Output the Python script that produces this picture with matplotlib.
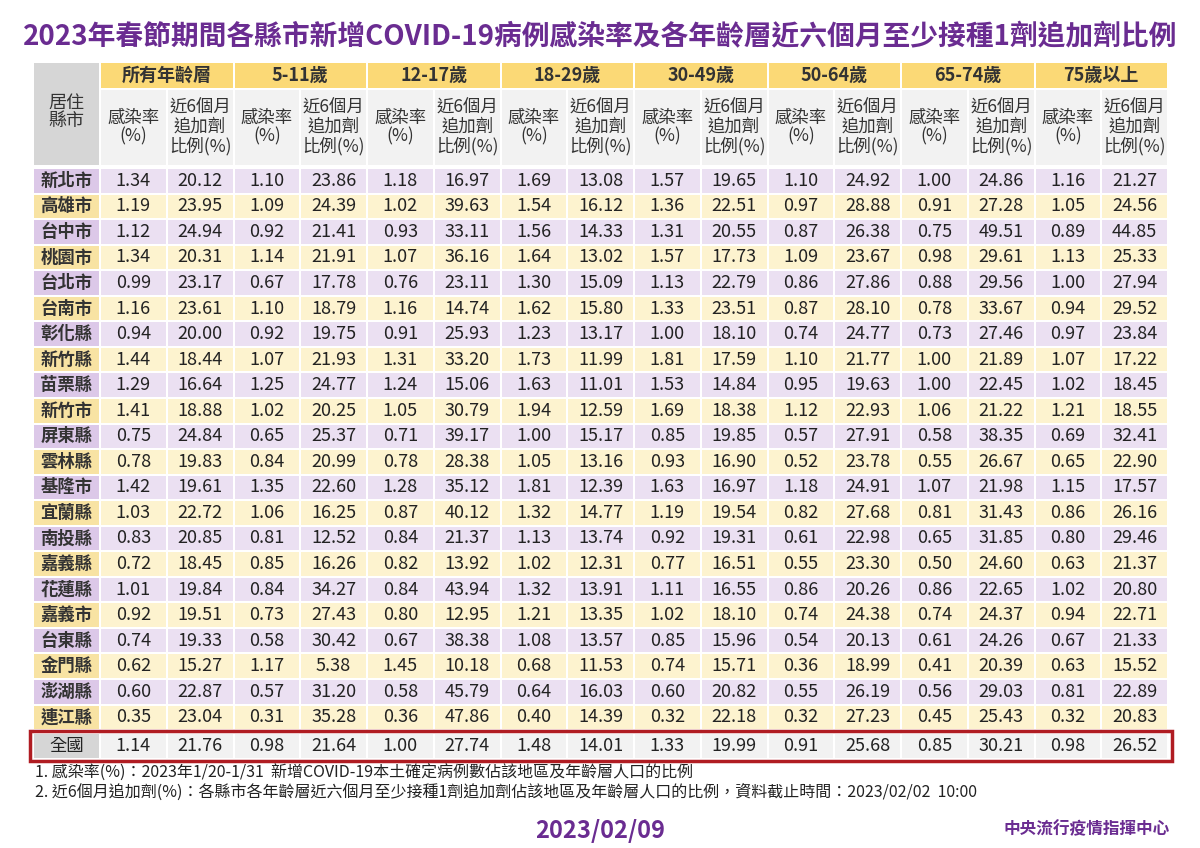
import matplotlib.pyplot as plt
from matplotlib.patches import Rectangle

plt.rcParams['font.family'] = ['Noto Sans CJK TC', 'DejaVu Sans']

title = "2023年春節期間各縣市新增COVID-19病例感染率及各年齡層近六個月至少接種1劑追加劑比例"
age_groups = ["所有年齡層", "5-11歲", "12-17歲", "18-29歲", "30-49歲", "50-64歲", "65-74歲", "75歲以上"]
sub_headers = ["感染率\n(%)", "近6個月\n追加劑\n比例(%)"]
cities = ["新北市", "高雄市", "台中市", "桃園市", "台北市", "台南市", "彰化縣", "新竹縣", "苗栗縣",
          "新竹市", "屏東縣", "雲林縣", "基隆市", "宜蘭縣", "南投縣", "嘉義縣", "花蓮縣", "嘉義市",
          "台東縣", "金門縣", "澎湖縣", "連江縣"]
values = [
    [1.34, 20.12, 1.10, 23.86, 1.18, 16.97, 1.69, 13.08, 1.57, 19.65, 1.10, 24.92, 1.00, 24.86, 1.16, 21.27],
    [1.19, 23.95, 1.09, 24.39, 1.02, 39.63, 1.54, 16.12, 1.36, 22.51, 0.97, 28.88, 0.91, 27.28, 1.05, 24.56],
    [1.12, 24.94, 0.92, 21.41, 0.93, 33.11, 1.56, 14.33, 1.31, 20.55, 0.87, 26.38, 0.75, 49.51, 0.89, 44.85],
    [1.34, 20.31, 1.14, 21.91, 1.07, 36.16, 1.64, 13.02, 1.57, 17.73, 1.09, 23.67, 0.98, 29.61, 1.13, 25.33],
    [0.99, 23.17, 0.67, 17.78, 0.76, 23.11, 1.30, 15.09, 1.13, 22.79, 0.86, 27.86, 0.88, 29.56, 1.00, 27.94],
    [1.16, 23.61, 1.10, 18.79, 1.16, 14.74, 1.62, 15.80, 1.33, 23.51, 0.87, 28.10, 0.78, 33.67, 0.94, 29.52],
    [0.94, 20.00, 0.92, 19.75, 0.91, 25.93, 1.23, 13.17, 1.00, 18.10, 0.74, 24.77, 0.73, 27.46, 0.97, 23.84],
    [1.44, 18.44, 1.07, 21.93, 1.31, 33.20, 1.73, 11.99, 1.81, 17.59, 1.10, 21.77, 1.00, 21.89, 1.07, 17.22],
    [1.29, 16.64, 1.25, 24.77, 1.24, 15.06, 1.63, 11.01, 1.53, 14.84, 0.95, 19.63, 1.00, 22.45, 1.02, 18.45],
    [1.41, 18.88, 1.02, 20.25, 1.05, 30.79, 1.94, 12.59, 1.69, 18.38, 1.12, 22.93, 1.06, 21.22, 1.21, 18.55],
    [0.75, 24.84, 0.65, 25.37, 0.71, 39.17, 1.00, 15.17, 0.85, 19.85, 0.57, 27.91, 0.58, 38.35, 0.69, 32.41],
    [0.78, 19.83, 0.84, 20.99, 0.78, 28.38, 1.05, 13.16, 0.93, 16.90, 0.52, 23.78, 0.55, 26.67, 0.65, 22.90],
    [1.42, 19.61, 1.35, 22.60, 1.28, 35.12, 1.81, 12.39, 1.63, 16.97, 1.18, 24.91, 1.07, 21.98, 1.15, 17.57],
    [1.03, 22.72, 1.06, 16.25, 0.87, 40.12, 1.32, 14.77, 1.19, 19.54, 0.82, 27.68, 0.81, 31.43, 0.86, 26.16],
    [0.83, 20.85, 0.81, 12.52, 0.84, 21.37, 1.13, 13.74, 0.92, 19.31, 0.61, 22.98, 0.65, 31.85, 0.80, 29.46],
    [0.72, 18.45, 0.85, 16.26, 0.82, 13.92, 1.02, 12.31, 0.77, 16.51, 0.55, 23.30, 0.50, 24.60, 0.63, 21.37],
    [1.01, 19.84, 0.84, 34.27, 0.84, 43.94, 1.32, 13.91, 1.11, 16.55, 0.86, 20.26, 0.86, 22.65, 1.02, 20.80],
    [0.92, 19.51, 0.73, 27.43, 0.80, 12.95, 1.21, 13.35, 1.02, 18.10, 0.74, 24.38, 0.74, 24.37, 0.94, 22.71],
    [0.74, 19.33, 0.58, 30.42, 0.67, 38.38, 1.08, 13.57, 0.85, 15.96, 0.54, 20.13, 0.61, 24.26, 0.67, 21.33],
    [0.62, 15.27, 1.17, 5.38, 1.45, 10.18, 0.68, 11.53, 0.74, 15.71, 0.36, 18.99, 0.41, 20.39, 0.63, 15.52],
    [0.60, 22.87, 0.57, 31.20, 0.58, 45.79, 0.64, 16.03, 0.60, 20.82, 0.55, 26.19, 0.56, 29.03, 0.81, 22.89],
    [0.35, 23.04, 0.31, 35.28, 0.36, 47.86, 0.40, 14.39, 0.32, 22.18, 0.32, 27.23, 0.45, 25.43, 0.32, 20.83],
]
national_label = "全國"
national = [1.14, 21.76, 0.98, 21.64, 1.00, 27.74, 1.48, 14.01, 1.33, 19.99, 0.91, 25.68, 0.85, 30.21, 0.98, 26.52]
notes = ["1. 感染率(%)：2023年1/20-1/31  新增COVID-19本土確定病例數佔該地區及年齡層人口的比例",
         "2. 近6個月追加劑(%)：各縣市各年齡層近六個月至少接種1劑追加劑佔該地區及年齡層人口的比例，資料截止時間：2023/02/02  10:00"]
date_text = "2023/02/09"
org_text = "中央流行疫情指揮中心"

PURPLE = "#6a2c91"
fig = plt.figure(figsize=(12, 8.48), dpi=100)
ax = fig.add_axes([0, 0, 1, 1])
ax.set_xlim(0, 1200)
ax.set_ylim(848, 0)
ax.axis("off")

x0, lab_w = 33, 67
col_w = (1168 - x0 - lab_w) / 16
row_top, row_h = 168, 25.55
gap = 2
NUM_FS = 13

def cell(x, y, w, h, color):
    ax.add_patch(Rectangle((x + gap / 2, y + gap / 2), w - gap, h - gap, color=color, lw=0))

ax.text(600, 37, title, ha="center", va="center", fontsize=20, fontweight="bold", color=PURPLE)

# header
cell(x0, 62, lab_w, 104, "#d6d6d6")
ax.text(x0 + lab_w / 2, 112, "居住\n縣市", ha="center", va="center", fontsize=13, color="#333333", linespacing=1.05)
for i, g in enumerate(age_groups):
    gx = x0 + lab_w + i * 2 * col_w
    cell(gx, 62, 2 * col_w, 27, "#fbd976")
    ax.text(gx + col_w, 75.5, g, ha="center", va="center", fontsize=13, fontweight="bold", color="#333333")
    for j, s in enumerate(sub_headers):
        cx = gx + j * col_w
        cell(cx, 89, col_w, 77, "#f2f2f2")
        ax.text(cx + col_w / 2, 127, s, ha="center", va="center", fontsize=12.5, color="#333333", linespacing=1.05)

# rows
for r, (city, vals) in enumerate(zip(cities, values)):
    y = row_top + r * row_h
    if r % 2 == 0:
        lab_c, dat_c = "#dcc8e8", "#ebe0f2"
    else:
        lab_c, dat_c = "#f8e3a3", "#fdf3cf"
    cell(x0, y, lab_w, row_h, lab_c)
    ax.text(x0 + lab_w / 2, y + row_h / 2, city, ha="center", va="center", fontsize=12.5, fontweight="bold", color="#333333")
    for c, v in enumerate(vals):
        cx = x0 + lab_w + c * col_w
        cell(cx, y, col_w, row_h, dat_c)
        ax.text(cx + col_w / 2, y + row_h / 2, f"{v:.2f}", ha="center", va="center", fontsize=NUM_FS, color="#222222")

y = row_top + len(cities) * row_h + 3
cell(x0, y, lab_w, row_h, "#d6d6d6")
ax.text(x0 + lab_w / 2, y + row_h / 2, national_label, ha="center", va="center", fontsize=12.5, color="#222222")
for c, v in enumerate(national):
    cx = x0 + lab_w + c * col_w
    cell(cx, y, col_w, row_h, "#f2f2f2")
    ax.text(cx + col_w / 2, y + row_h / 2, f"{v:.2f}", ha="center", va="center", fontsize=NUM_FS, color="#222222")
ax.add_patch(Rectangle((30, y - 2), 1142, row_h + 4, fill=False, ec="#b01c22", lw=2.5))

ax.text(35, 773, notes[0], ha="left", va="center", fontsize=11.5, color="#222222")
ax.text(35, 792, notes[1], ha="left", va="center", fontsize=11.5, color="#222222")
ax.text(600, 831, date_text, ha="center", va="center", fontsize=17, fontweight="bold", color=PURPLE)
ax.text(1170, 829, org_text, ha="right", va="center", fontsize=12, fontweight="bold", color=PURPLE)

fig.savefig("out.png", dpi=100)
